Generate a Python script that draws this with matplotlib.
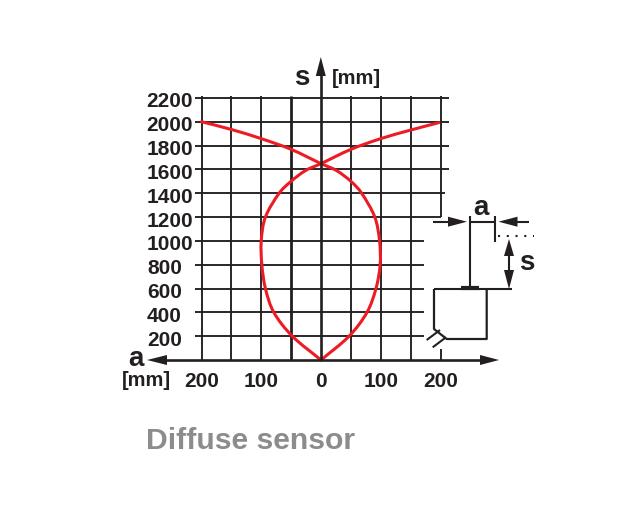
import numpy as np
import matplotlib
matplotlib.use("Agg")
import matplotlib.pyplot as plt
from matplotlib.path import Path
from matplotlib.patches import PathPatch, Polygon
from matplotlib.transforms import ScaledTranslation

plt.rcParams['font.family'] = ['Liberation Sans', 'DejaVu Sans']

# Data
s_ticks = [200, 400, 600, 800, 1000, 1200, 1400, 1600, 1800, 2000, 2200]
a_ticks = [-200, -100, 0, 100, 200]
a_grid = [-200, -150, -100, -50, 50, 100, 150, 200]

# left / right outer branches (a, s)
wing_left_a = [-200, -150, -100, -50, 0]
wing_left_s = [2000, 1935, 1858, 1768, 1648]
wing_right_a = [0, 50, 100, 150, 197]
wing_right_s = [1648, 1768, 1858, 1930, 1992]
# lobe
lobe_left_a = [0, -48, -79, -93, -99, -100, -93, -70, -50, -26, 0]
lobe_left_s = [0, 200, 400, 600, 800, 1000, 1200, 1400, 1500, 1590, 1648]
lobe_right_a = [0, 47, 77, 92, 99, 98, 90, 68, 50, 26, 0]
lobe_right_s = [0, 200, 400, 600, 800, 1000, 1200, 1400, 1500, 1590, 1648]

# horizontal grid right ends (a units)
grid_right = [172, 172, 172, 172, 172, 200, 207, 215, 215, 215, 215]

DARK = '#231f20'
RED = '#ed1c24'
W, H = 637, 506

px_l, px_r, px_t, px_b = 201.5, 440.5, 98.9, 361.0


def smooth_path(xs, ys):
    """Chord-length Catmull-Rom through the read points, drawn as cubic Beziers."""
    p = np.column_stack([xs, ys]).astype(float)
    scale = np.array([(px_r - px_l) / 400, (px_b - px_t) / 2200])
    t = np.concatenate([[0], np.cumsum(np.hypot(*(np.diff(p, axis=0) * scale).T) ** 0.5)])
    n = len(p)
    m = np.zeros_like(p)
    m[1:-1] = (p[2:] - p[:-2]) / (t[2:] - t[:-2])[:, None]
    m[0] = (p[1] - p[0]) / (t[1] - t[0])
    m[-1] = (p[-1] - p[-2]) / (t[-1] - t[-2])
    verts = [p[0]]
    codes = [Path.MOVETO]
    for i in range(n - 1):
        dt = t[i + 1] - t[i]
        verts += [p[i] + m[i] * dt / 3, p[i + 1] - m[i + 1] * dt / 3, p[i + 1]]
        codes += [Path.CURVE4] * 3
    return Path(verts, codes)


fig = plt.figure(figsize=(W / 100, H / 100), dpi=100, facecolor='white')
ax = fig.add_axes([px_l / W, 1 - px_b / H, (px_r - px_l) / W, (px_b - px_t) / H])
ax.set_xlim(-200, 200)
ax.set_ylim(0, 2200)
ax.patch.set_alpha(0)
for sp in ax.spines.values():
    sp.set_visible(False)

# grid
lw = 1.35
for v, r in zip(s_ticks, grid_right):
    ax.plot([-200, r], [v, v], color=DARK, lw=lw, solid_capstyle='butt', clip_on=False, zorder=2)
for a in a_grid:
    if a == 200:
        ax.plot([a, a], [1200, 2220], color=DARK, lw=lw, clip_on=False, solid_capstyle='butt', zorder=2)
        ax.plot([a, a], [0, 92], color=DARK, lw=lw, clip_on=False, solid_capstyle='butt', zorder=2)
    else:
        ax.plot([a, a], [0, 2220], color=DARK, lw=2.0 if a == -50 else lw, clip_on=False,
                solid_capstyle='butt', zorder=2)

# ticks
ax.set_yticks(s_ticks, [str(v) for v in s_ticks], fontsize=15, fontweight='bold', color=DARK)
ax.set_xticks(a_ticks, [str(abs(v)) for v in a_ticks], fontsize=15, fontweight='bold', color=DARK)
ax.tick_params(axis='y', length=5, width=lw, color=DARK, pad=1.2)
ax.tick_params(axis='x', length=0, pad=8)
for tick in ax.yaxis.get_major_ticks():
    dx = -11 if tick.get_loc() < 1000 else 0
    tick.label1.set_transform(tick.label1.get_transform()
                              + ScaledTranslation(dx / 100, -1.0 / 100, fig.dpi_scale_trans))

# curves
for xs, ys in [(wing_left_a, wing_left_s), (wing_right_a, wing_right_s),
               (lobe_left_a, lobe_left_s), (lobe_right_a, lobe_right_s)]:
    ax.add_patch(PathPatch(smooth_path(xs, ys), fill=False, edgecolor=RED, lw=2.2,
                           clip_on=False, zorder=4, capstyle='round'))

# overlay in pixel coordinates: axes, arrows, sensor sketch
ov = fig.add_axes([0, 0, 1, 1])
ov.set_xlim(0, W)
ov.set_ylim(H, 0)
ov.axis('off')
ov.patch.set_alpha(0)


def line(xs, ys, lw=1.5, **kw):
    ov.plot(xs, ys, color=DARK, lw=lw, solid_capstyle='butt', **kw)


def head(tip, direction, length=19, width=10):
    tip = np.array(tip, float)
    d = np.array(direction, float)
    n = np.array([-d[1], d[0]])
    base = tip - d * length
    ov.add_patch(Polygon([tip, base + n * width / 2, base - n * width / 2], closed=True,
                         facecolor=DARK, edgecolor='none', zorder=5))


line([320.8, 320.8], [361, 66], lw=1.9)
head((320.8, 58), (0, -1))
line([155, 490], [361, 361], lw=1.9)
head((147, 361), (-1, 0), length=20)
head((499, 361), (1, 0), length=19)

line([433, 460], [222.7, 222.7])
head((467, 222.7), (1, 0))
line([470, 470], [217, 290])
line([470, 495], [222.7, 222.7])
line([495, 495], [217, 243])
head((498.5, 222.7), (-1, 0))
line([505, 528.5], [222.7, 222.7])
line([498, 534], [236.7, 236.7], ls=(0, (1, 3.2)))
line([509, 509], [250, 280])
head((509, 240), (0, -1), length=17)
head((509, 290), (0, 1), length=19)
line([461, 479], [289, 289], lw=3)
line([434, 512], [290, 290])
line([434, 434, 446.7, 486.7, 486.7], [290, 330, 340, 340, 290], lw=1.6)
line([440, 426.7], [331, 341])
line([446, 432.7], [338.3, 348.3])

bold = dict(fontweight='bold', color=DARK, ha='center', va='center')
ov.text(301.5, 77.5, 's', fontsize=20, **bold)
ov.text(356, 78, '[mm]', fontsize=14.5, **bold)
ov.text(136, 359.5, 'a', fontsize=20, **bold)
ov.text(146, 380, '[mm]', fontsize=14.5, **bold)
ov.text(481, 208, 'a', fontsize=20, **bold)
ov.text(527, 263, 's', fontsize=20, **bold)
ov.text(146, 441, 'Diffuse sensor', fontsize=21.7, fontweight='bold', color='#8c8c8c',
        ha='left', va='center')

fig.savefig('out.png', dpi=100, facecolor='white')
